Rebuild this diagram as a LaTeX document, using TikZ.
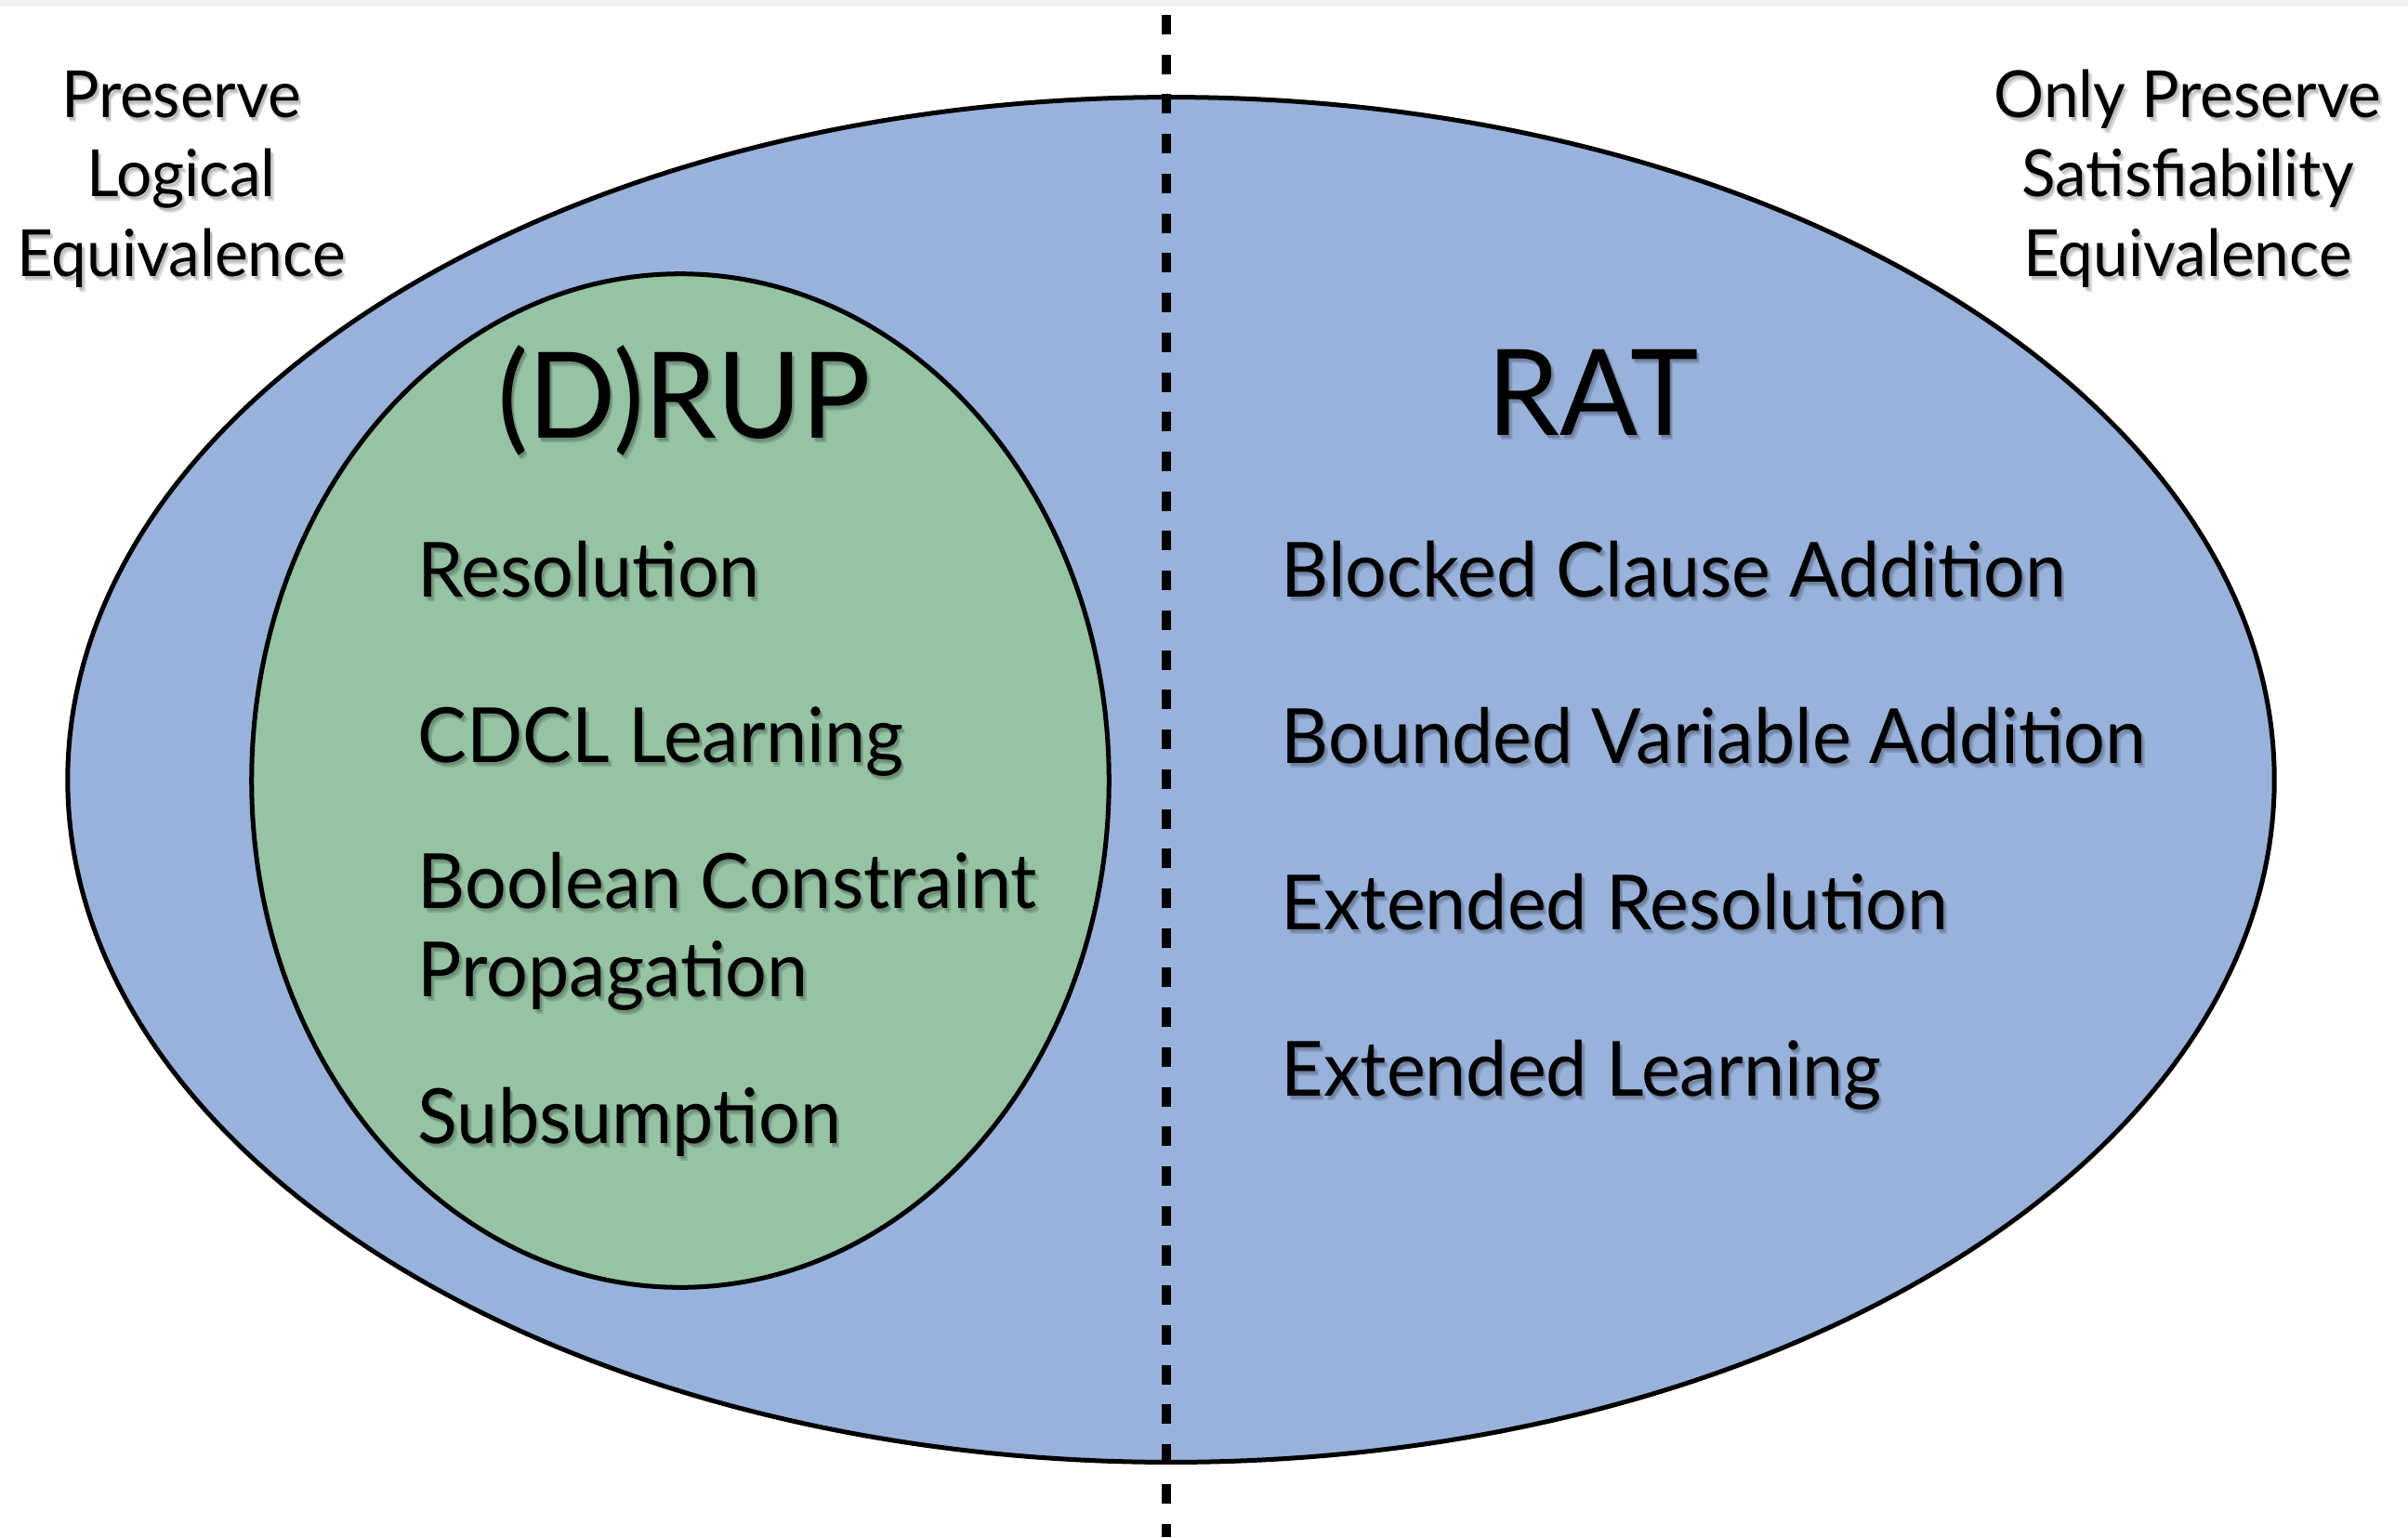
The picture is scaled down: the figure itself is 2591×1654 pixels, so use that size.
\documentclass[tikz,border=0pt]{standalone}
\usepackage{fontspec}
\setmainfont[FakeStretch=0.965]{Lato}
\usetikzlibrary{shapes.geometric}
\definecolor{outerblue}{HTML}{99B2DB}
\definecolor{innergreen}{HTML}{95C3A3}
\definecolor{topband}{HTML}{F1F1F1}
\newcommand\itemfont{\fontsize{23.3}{27}\selectfont}
\newcommand\cornerfont{\fontsize{19.9}{24.2}\selectfont}
\newcommand\titlefont{\fontsize{36.6}{40}\selectfont}
% shadowed text node: #1 name, #2 position, #3 options, #4 text
\newcommand\sdnode[4]{%
  \node[#3, text=black, opacity=0.14] at ([xshift=0.02cm,yshift=-0.03cm]#2) {#4};
  \node[#3, text=black, opacity=0.14] at ([xshift=0.035cm,yshift=-0.05cm]#2) {#4};
  \node[#3] (#1) at (#2) {#4};}
\begin{document}
\begin{tikzpicture}[x=0.01cm,y=-0.01cm,
  ellipsebox/.style={ellipse, draw=black, line width=0.05cm, inner sep=0pt},
  itemtext/.style={inner sep=0pt, anchor=base west, font=\itemfont, align=left},
  cornertext/.style={inner sep=0pt, anchor=base, font=\cornerfont, align=center},
  titletext/.style={inner sep=0pt, anchor=base, font=\titlefont},
  divider/.style={line width=0.107cm, dash pattern=on 0.21cm off 0.217cm}]
\useasboundingbox (0,0) rectangle (2591,1654);
\fill[white] (0,0) rectangle (2591,1654);
\fill[topband] (0,0) rectangle (2591,7);
\node[ellipsebox, fill=outerblue, minimum width=23.73cm, minimum height=14.68cm] (outer) at (1260,839) {};
\node[ellipsebox, fill=innergreen, minimum width=9.22cm, minimum height=10.90cm] (inner) at (732,840) {};
\coordinate (dtop) at (1255,16);
\coordinate (dbot) at (1255,1654);
\draw[divider] (dtop) -- (dbot);
% corner labels (base = baseline of last line)
\coordinate (pl) at (195,297);
\coordinate (pr) at (2354,297);
\sdnode{leftlabel}{pl}{cornertext}{Preserve\\Logical\\Equivalence}
\sdnode{rightlabel}{pr}{cornertext}{Only Preserve\\Satisfiability\\Equivalence}
% titles
\coordinate (t1) at (736,471);
\coordinate (t2) at (1714,468);
\sdnode{drup}{t1}{titletext}{(D)RUP}
\sdnode{rat}{t2}{titletext}{RAT}
% left items
\coordinate (l1) at (449,642);
\coordinate (l2) at (449,820);
\coordinate (l3) at (449,1072);
\coordinate (l4) at (449,1230);
\sdnode{res}{l1}{itemtext}{Resolution}
\sdnode{cdcl}{l2}{itemtext}{CDCL Learning}
\sdnode{bcp}{l3}{itemtext}{Boolean Constraint\\Propagation}
\sdnode{sub}{l4}{itemtext}{Subsumption}
% right items
\coordinate (r1) at (1378,642);
\coordinate (r2) at (1378,821);
\coordinate (r3) at (1378,1000);
\coordinate (r4) at (1378,1179);
\sdnode{bca}{r1}{itemtext}{Blocked Clause Addition}
\sdnode{bva}{r2}{itemtext}{Bounded Variable Addition}
\sdnode{eres}{r3}{itemtext}{Extended Resolution}
\sdnode{elearn}{r4}{itemtext}{Extended Learning}
\end{tikzpicture}
\end{document}
